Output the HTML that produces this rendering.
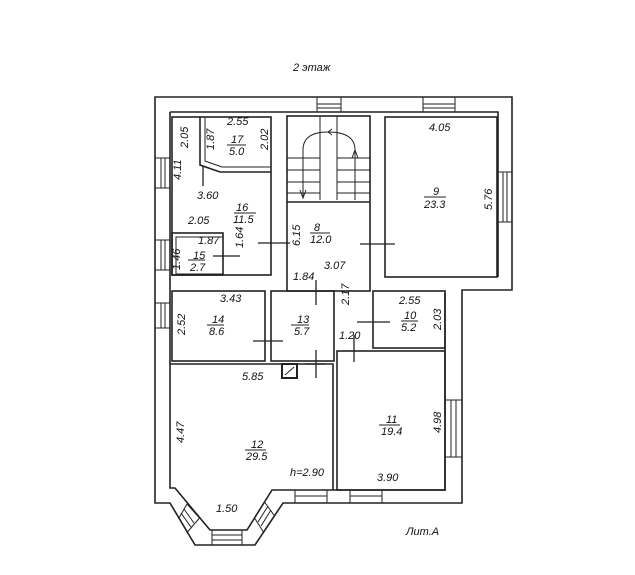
<!DOCTYPE html>
<html><head><meta charset="utf-8"><style>
body{margin:0;background:#fff}
svg text{font-family:"Liberation Sans",sans-serif;font-style:italic;font-size:11px;fill:#111}
</style></head><body>
<svg width="635" height="570" viewBox="0 0 635 570" xmlns="http://www.w3.org/2000/svg">
<g fill="none" stroke="#222" stroke-width="1.6">
<!-- outer boundary -->
<path d="M155,97 H512 V290 H462 V503 H283 L255,545 H195 L170,503 H155 Z"/>
<!-- inner boundary -->
<path d="M170,112 H498 V277"/>
<path d="M170,112 V488 H175 L210,530 H247 L272,490 H445 V293"/>
<!-- room 9 -->
<rect x="385" y="117" width="112" height="160"/>
<!-- stair/8 block -->
<rect x="287" y="116" width="83" height="175"/>
<line x1="287" y1="202" x2="370" y2="202"/>
<!-- rooms left column -->
<rect x="172" y="117" width="99" height="158"/>
<path d="M200,117 V165 L220,172 H271"/>
<path d="M205,117 V161 L222,167 H271" stroke-width="1"/>
<rect x="172" y="233" width="51" height="42"/>
<rect x="176" y="237" width="47" height="37" stroke-width="1"/>
<!-- row 14/13 -->
<rect x="172" y="291" width="93" height="70"/>
<rect x="271" y="291" width="63" height="70"/>
<!-- 10 -->
<rect x="373" y="291" width="72" height="57"/>
<!-- 11 -->
<rect x="337" y="351" width="108" height="139"/>
<!-- 12 -->
<path d="M170,364 H333 V490"/>
<!-- chimney -->
<rect x="282" y="364" width="15" height="14" stroke-width="2"/>
<line x1="285" y1="375" x2="294" y2="367" stroke-width="1"/>
<!-- door marks -->
<g stroke-width="1.3">
<line x1="258" y1="243" x2="290" y2="243"/><line x1="213" y1="256" x2="240" y2="256"/>
<line x1="203" y1="166" x2="203" y2="186"/><line x1="360" y1="244" x2="395" y2="244"/>
<line x1="316" y1="280" x2="316" y2="305"/><line x1="253" y1="341" x2="283" y2="341"/>
<line x1="316" y1="350" x2="316" y2="378"/><line x1="357" y1="322" x2="390" y2="322"/>
<line x1="354" y1="335" x2="354" y2="362"/><line x1="305" y1="364" x2="325" y2="364"/>
</g>
<!-- stairs -->
<g stroke-width="1">
<line x1="320" y1="116" x2="320" y2="200"/><line x1="337" y1="116" x2="337" y2="200"/>
<line x1="287" y1="158" x2="320" y2="158"/><line x1="287" y1="170" x2="320" y2="170"/>
<line x1="287" y1="182" x2="320" y2="182"/><line x1="287" y1="193" x2="320" y2="193"/>
<line x1="337" y1="158" x2="370" y2="158"/><line x1="337" y1="170" x2="370" y2="170"/>
<line x1="337" y1="182" x2="370" y2="182"/><line x1="337" y1="193" x2="370" y2="193"/>
<path d="M303,198 V150 Q303,132 328,132 Q355,132 355,150 V200"/>
<path d="M300,190 L303,198 L306,190 M352,158 L355,150 L358,158 M332,129 L328,132 L332,135"/>
</g>
<!-- windows -->
<g stroke-width="1">
<rect x="317" y="97" width="24" height="15"/><line x1="317" y1="104" x2="341" y2="104"/><line x1="317" y1="108" x2="341" y2="108"/>
<rect x="423" y="97" width="32" height="15"/><line x1="423" y1="104" x2="455" y2="104"/><line x1="423" y1="108" x2="455" y2="108"/>
<rect x="155" y="158" width="15" height="30"/><line x1="161" y1="158" x2="161" y2="188"/><line x1="165" y1="158" x2="165" y2="188"/>
<rect x="155" y="240" width="15" height="30"/><line x1="161" y1="240" x2="161" y2="270"/><line x1="165" y1="240" x2="165" y2="270"/>
<rect x="155" y="303" width="15" height="25"/><line x1="161" y1="303" x2="161" y2="328"/><line x1="165" y1="303" x2="165" y2="328"/>
<rect x="497" y="172" width="15" height="50"/><line x1="503" y1="172" x2="503" y2="222"/><line x1="507" y1="172" x2="507" y2="222"/>
<rect x="445" y="400" width="17" height="57"/><line x1="451" y1="400" x2="451" y2="457"/><line x1="456" y1="400" x2="456" y2="457"/>
<rect x="295" y="490" width="32" height="13"/><line x1="295" y1="496" x2="327" y2="496"/>
<rect x="350" y="490" width="32" height="13"/><line x1="350" y1="496" x2="382" y2="496"/>
<rect x="212" y="530" width="30" height="15"/><line x1="212" y1="535" x2="242" y2="535"/><line x1="212" y1="540" x2="242" y2="540"/>
<path d="M187,504 L199.5,518 L187.5,532 L179,518 Z M184,509 L194,523 M181,513 L191,527"/>
<path d="M254.5,518 L264.5,502 L274.6,516 L263.4,532 Z M258,522 L268,506 M261,526 L271,510"/>
</g>
<!-- area fraction lines -->
<g stroke-width="1">
<line x1="227" y1="145" x2="246" y2="145"/><line x1="234" y1="213" x2="256" y2="213"/>
<line x1="188" y1="260" x2="205" y2="260"/><line x1="310" y1="233" x2="330" y2="233"/>
<line x1="424" y1="197" x2="446" y2="197"/><line x1="207" y1="325" x2="224" y2="325"/>
<line x1="291" y1="325" x2="309" y2="325"/><line x1="401" y1="321" x2="418" y2="321"/>
<line x1="379" y1="425" x2="400" y2="425"/><line x1="245" y1="450" x2="266" y2="450"/>
</g>
</g>
<g>
<text x="293" y="71" font-size="12">2 этаж</text>
<text x="227" y="125">2.55</text><text x="231" y="143">17</text><text x="229" y="155">5.0</text>
<text x="236" y="211">16</text><text x="233" y="223">11.5</text>
<text x="197" y="199">3.60</text><text x="188" y="224">2.05</text><text x="198" y="244">1.87</text>
<text x="193" y="259">15</text><text x="190" y="271">2.7</text>
<text x="314" y="231">8</text><text x="310" y="243">12.0</text><text x="324" y="269">3.07</text>
<text x="293" y="280">1.84</text>
<text x="429" y="131">4.05</text><text x="433" y="195">9</text><text x="424" y="208">23.3</text>
<text x="220" y="302">3.43</text><text x="212" y="323">14</text><text x="209" y="335">8.6</text>
<text x="297" y="323">13</text><text x="294" y="335">5.7</text>
<text x="399" y="304">2.55</text><text x="404" y="319">10</text><text x="401" y="331">5.2</text>
<text x="339" y="339">1.20</text><text x="242" y="380">5.85</text>
<text x="386" y="423">11</text><text x="381" y="435">19.4</text>
<text x="251" y="448">12</text><text x="246" y="460">29.5</text>
<text x="290" y="476">h=2.90</text><text x="377" y="481">3.90</text>
<text x="216" y="512">1.50</text>
<text x="406" y="535">Лит.А</text>
<g font-size="10">
<text transform="translate(188,148) rotate(-90)">2.05</text>
<text transform="translate(214,150) rotate(-90)">1.87</text>
<text transform="translate(268,150) rotate(-90)">2.02</text>
<text transform="translate(181,180) rotate(-90)">4.11</text>
<text transform="translate(243,248) rotate(-90)">1.64</text>
<text transform="translate(180,270) rotate(-90)">1.46</text>
<text transform="translate(300,246) rotate(-90)">6.15</text>
<text transform="translate(492,210) rotate(-90)">5.76</text>
<text transform="translate(349,305) rotate(-90)">2.17</text>
<text transform="translate(185,335) rotate(-90)">2.52</text>
<text transform="translate(441,330) rotate(-90)">2.03</text>
<text transform="translate(184,443) rotate(-90)">4.47</text>
<text transform="translate(441,433) rotate(-90)">4.98</text>
</g>
</g>
</svg>
</body></html>
